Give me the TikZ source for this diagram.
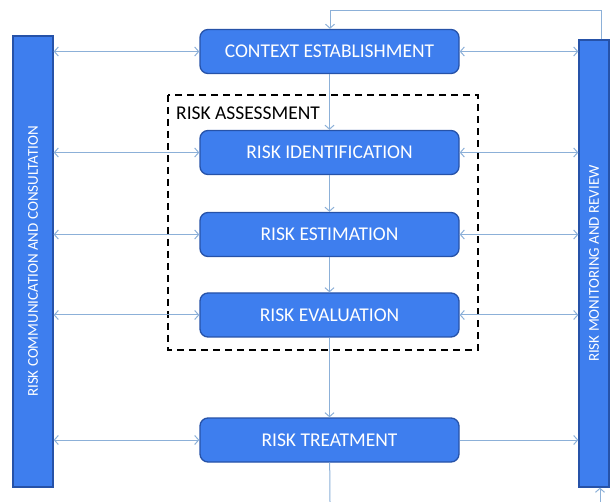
\documentclass[tikz,border=0pt]{standalone}
\usepackage{fontspec}
\setmainfont{Carlito}
\usetikzlibrary{arrows.meta}
\definecolor{boxfill}{RGB}{62,126,238}
\definecolor{boxline}{RGB}{38,82,168}
\definecolor{arrcol}{RGB}{140,176,216}
\tikzset{
  procbox/.style={draw=boxline, line width=1.3pt, fill=boxfill, rounded corners=8pt,
    minimum width=259pt, minimum height=44pt, inner sep=0pt, text=white,
    font=\fontsize{19.5}{21}\selectfont},
  sidebar/.style={draw=boxline, line width=1.3pt, fill=boxfill, inner sep=0pt},
  bartext/.style={rotate=90, text=white, font=\fontsize{15}{17}\selectfont},
  arr/.style={draw=arrcol, line width=1pt, -{Straight Barb[length=4pt,width=9pt]}},
  darr/.style={draw=arrcol, line width=1pt, {Straight Barb[length=4pt,width=9pt]}-{Straight Barb[length=4pt,width=9pt]}},
  plain/.style={draw=arrcol, line width=1pt},
}
\begin{document}
\begin{tikzpicture}[x=1pt,y=-1pt]
\useasboundingbox (0,0) rectangle (610,502);
% dashed assessment frame
\draw[black, line width=1.6pt, dash pattern=on 7pt off 5pt] (168,95) rectangle (478,350);
\node[anchor=west, font=\fontsize{19.5}{21}\selectfont, inner sep=0pt] (ralabel) at (176,113) {RISK ASSESSMENT};
% side bars
\node[sidebar, minimum width=40pt, minimum height=451pt] (lb) at (33,261.5) {};
\node[bartext] (lbt) at (lb.center) {RISK COMMUNICATION AND CONSULTATION};
\node[sidebar, minimum width=30pt, minimum height=447pt] (rb) at (594,263.5) {};
\node[bartext] (rbt) at (rb.center) {RISK MONITORING AND REVIEW};
% process boxes
\node[procbox] (ctx) at (329.5,51.5) {CONTEXT ESTABLISHMENT};
\node[procbox] (rid) at (329.5,152.5) {RISK IDENTIFICATION};
\node[procbox] (res) at (329.5,234.5) {RISK ESTIMATION};
\node[procbox] (rev) at (329.5,315) {RISK EVALUATION};
\node[procbox] (rtr) at (329.5,440) {RISK TREATMENT};
% vertical flow
\draw[arr] (ctx) -- (rid);
\draw[arr] (rid) -- (res);
\draw[arr] (res) -- (rev);
\draw[arr] (rev) -- (rtr);
\coordinate (bottomc) at (330,502);
\draw[plain] (rtr) -- (bottomc);
% loop from monitoring back to context
\coordinate (loopr) at (601,11);
\coordinate (loopl) at (330,11);
\draw[arr] (rb.north -| loopr) -- (loopr) -- (loopl) -- (ctx.north -| loopl);
\coordinate (bottomr) at (600,502);
\draw[arr] (bottomr) -- (rb.south -| bottomr);
% communication arrows
\foreach \b in {ctx,rid,res,rev,rtr}{
  \draw[darr] (lb.east |- \b) -- (\b.west);
}
% monitoring arrows
\foreach \b in {ctx,rid,res,rev}{
  \draw[darr] (\b.east) -- (rb.west |- \b);
}
\draw[arr] (rtr.east) -- (rb.west |- rtr);
\end{tikzpicture}
\end{document}
